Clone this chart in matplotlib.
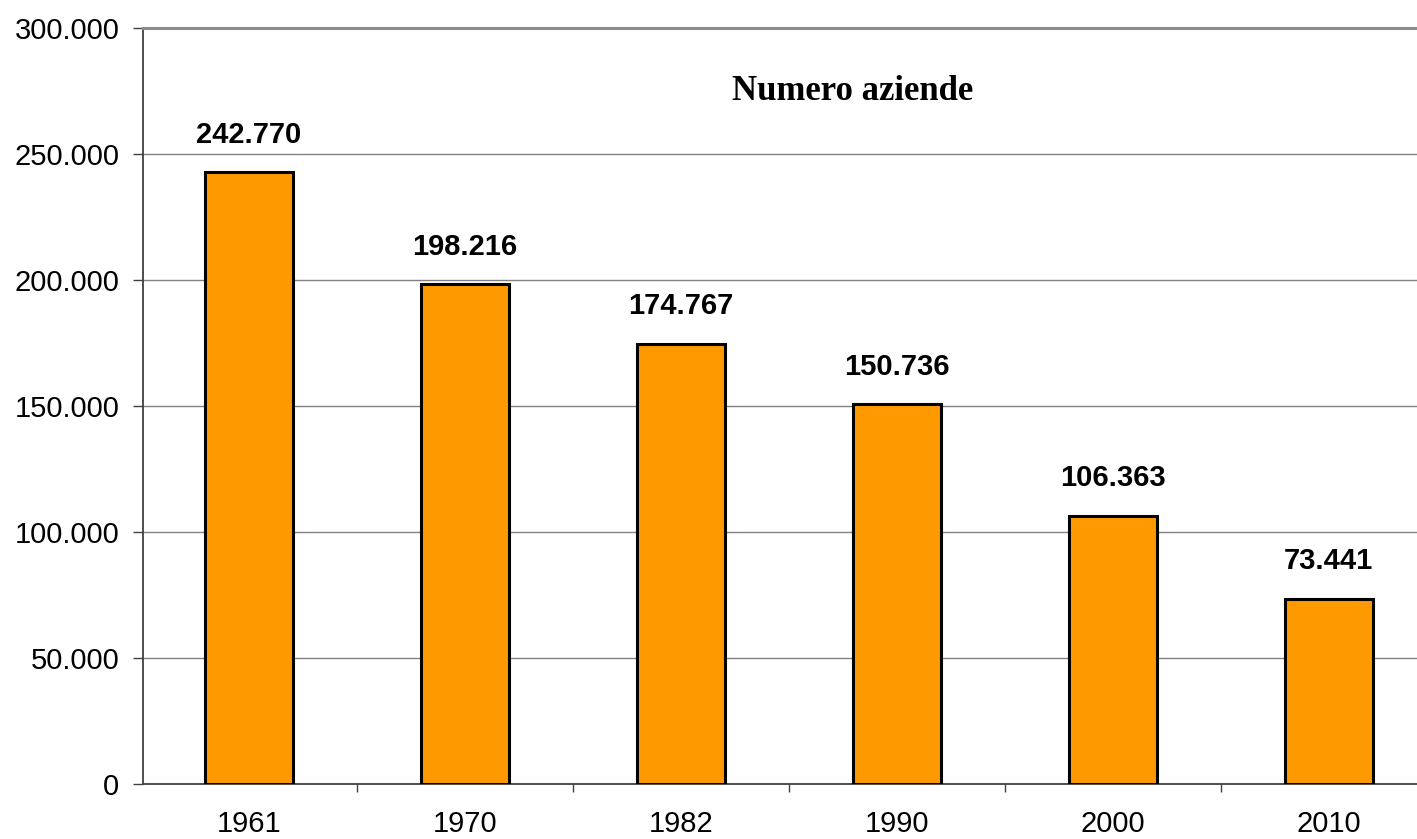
import numpy as np
import matplotlib
matplotlib.use('Agg')
import matplotlib.pyplot as plt
from matplotlib.ticker import FuncFormatter, FixedLocator

# census years and number of farms
anni = ['1961', '1970', '1982', '1990', '2000', '2010']
aziende = [242770, 198216, 174767, 150736, 106363, 73441]
yticks = [0, 50000, 100000, 150000, 200000, 250000, 300000]


def fmt_it(v, pos=None):
    # italian style thousands separator
    return '{:,.0f}'.format(v).replace(',', '.')


plt.rcParams['font.family'] = ['Liberation Sans', 'DejaVu Sans']

fig = plt.figure(figsize=(14.17, 8.39), dpi=100)
# axes runs past the right edge of the figure, like the original
ax = fig.add_axes([143 / 1417, 55 / 839, 1296 / 1417, 756 / 839])

x = np.arange(len(anni))
ax.bar(x, aziende, width=0.41, color='#FF9900', edgecolor='black',
       linewidth=2.2, zorder=3)

for xi, v in zip(x, aziende):
    ax.annotate(fmt_it(v), (xi, v), xytext=(0, 17), textcoords='offset points',
                ha='center', va='bottom', fontsize=21, fontweight='bold')

ax.set_xlim(-0.49, len(anni) - 0.49)
ax.set_ylim(0, 300000)
ax.yaxis.set_major_locator(FixedLocator(yticks))
ax.yaxis.set_major_formatter(FuncFormatter(fmt_it))
ax.grid(axis='y', color='#808080', linewidth=1, zorder=0)

# ticks on category boundaries, labels in the middle
ax.xaxis.set_major_locator(FixedLocator(np.arange(-0.5, len(anni), 1.0)))
ax.xaxis.set_major_formatter(FuncFormatter(lambda v, p: ''))
ax.xaxis.set_minor_locator(FixedLocator(x))
ax.set_xticklabels(anni, minor=True)
ax.tick_params(axis='x', which='major', direction='out', length=6,
               color='#404040', width=1)
ax.tick_params(axis='x', which='minor', length=0, pad=19, labelsize=21)
ax.tick_params(axis='y', direction='out', length=7, color='#404040',
               width=1, pad=10, labelsize=21)

for s in ['left', 'bottom']:
    ax.spines[s].set_color('#404040')
    ax.spines[s].set_linewidth(1.3)
ax.spines['top'].set_color('#8c8c8c')
ax.spines['top'].set_linewidth(2.2)
ax.spines['right'].set_visible(False)

ax.text(853 / 1417, 1 - 100 / 839, 'Numero aziende', transform=fig.transFigure,
        ha='center', va='baseline', fontsize=25, fontweight='bold',
        family=['Liberation Serif', 'DejaVu Serif'])

fig.savefig('out.png', dpi=100)
